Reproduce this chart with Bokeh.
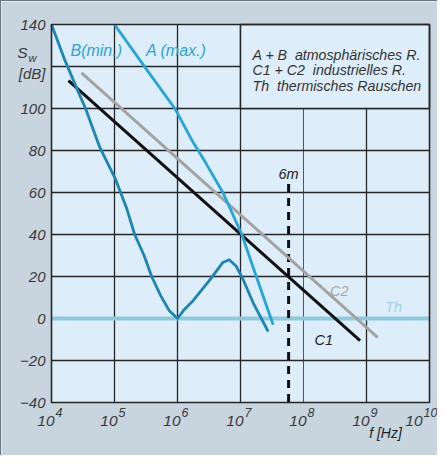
from bokeh.plotting import figure
from bokeh.models import Range1d
from bokeh.core.properties import value
from bokeh.embed import file_html
from bokeh.resources import INLINE
import math

# ---- axis ticks ----
freq_ticks = [1e4, 1e5, 1e6, 1e7, 1e8, 1e9, 1e10]
freq_exponents = ["4", "5", "6", "7", "8", "9", "10"]
db_ticks = [-40, -20, 0, 20, 40, 60, 80, 100, 120, 140]
db_tick_labels = ["−40", "−20", "0", "20", "40", "60", "80", "100", "", "140"]

# ---- series (frequency in Hz, level in dB) ----
a_f = [1.0e5, 3.16e5, 9.3e5, 1.76e6, 2.82e6, 5.25e6, 1.05e7, 1.78e7, 3.3e7]
a_db = [140, 119, 99.5, 84, 74, 60, 40, 20, -3]

b_f = [1.0e4, 1.58e4, 2.57e4, 3.47e4, 5.75e4, 1.05e5, 1.58e5, 2.09e5, 2.95e5,
       3.89e5, 5.43e5, 7.41e5, 1.0e6, 1.26e6, 1.78e6, 3.31e6, 5.25e6, 6.61e6,
       8.51e6, 1.1e7, 1.58e7, 2.75e7]
b_db = [140, 124, 109, 100, 82, 66, 52, 40, 30,
        20, 10.8, 3.7, 0, 4, 8.6, 18.6, 26.7, 28,
        25, 18.6, 7.6, -6.2]

c1_f = [1.86e4, 7.9e8]
c1_db = [113.3, -10.5]

c2_f = [3.0e4, 1.5e9]
c2_db = [117, -9]

th_f = [1e4, 1e10]
th_db = [0, 0]

band_6m_f = [5.8e7, 5.8e7]
band_6m_db = [64, -40]

legend_lines = ["A + B\u00a0\u00a0atmosphärisches R.",
                "C1 + C2\u00a0\u00a0industrielles R.",
                "Th\u00a0\u00a0thermisches Rauschen"]

PLOT_BG = "#ddeefa"
PANEL_BG = "#c8d5df"
GRID = "#262626"
FONT = "Liberation Sans"
TICK_COLOR = "#3a3a3a"

# ---- layout (window pixels) ----
W, H = 437, 455
FIG_X0, FIG_Y0 = 9, 9
FRAME_L, FRAME_R, FRAME_T, FRAME_B = 59, 437, 32, 410
n_dec = math.log10(freq_ticks[-1] / freq_ticks[0])
px_dec = (FRAME_R - FRAME_L) / n_dec
px_db = (FRAME_B - FRAME_T) / (db_ticks[-1] - db_ticks[0])
x_lo = freq_ticks[0] / 10 ** ((FRAME_L - FIG_X0) / px_dec)
x_hi = freq_ticks[-1] * 10 ** ((FIG_X0 + W - FRAME_R) / px_dec)
y_hi = db_ticks[-1] + (FRAME_T - FIG_Y0) / px_db
y_lo = db_ticks[0] - (FIG_Y0 + H - FRAME_B) / px_db

p = figure(width=W, height=H, x_axis_type="log",
           x_range=Range1d(x_lo, x_hi), y_range=Range1d(y_lo, y_hi),
           output_backend="svg", toolbar_location=None,
           x_axis_location=None, y_axis_location=None, min_border=0)
p.styles = {"border-top": "1px solid #6a7680", "border-left": "1px solid #6a7680"}
p.background_fill_color = PANEL_BG
p.border_fill_color = PANEL_BG
p.outline_line_color = None
p.grid.visible = False

f0, f1 = freq_ticks[0], freq_ticks[-1]
d0, d1 = db_ticks[0], db_ticks[-1]

# plot area
p.quad(left=[f0], right=[f1], bottom=[d0], top=[d1], fill_color=PLOT_BG, line_color=None)

# grid
vx = freq_ticks[1:-1]
vcol = [GRID, GRID, GRID, "#555555", GRID]
vw = [1.3, 1.3, 1.3, 1.0, 1.3]
p.segment(x0=vx, y0=[d0] * len(vx), x1=vx, y1=[d1] * len(vx), line_color=vcol, line_width=vw)
hy = db_ticks[1:-1]
p.segment(x0=[f0] * len(hy), y0=hy, x1=[f1] * len(hy), y1=hy, line_color=GRID, line_width=1.3)

# legend box (covers grid in upper right)
p.quad(left=[freq_ticks[3]], right=[f1], bottom=[db_ticks[7]], top=[d1],
       fill_color=PLOT_BG, line_color=GRID, line_width=1.5)

# curves
p.line(th_f, th_db, line_color="#8fc9de", line_width=4)
p.line(band_6m_f, band_6m_db, line_color="#111111", line_width=3, line_dash="8 6")
p.line(c2_f, c2_db, line_color="#a3a3a3", line_width=3)
p.line(c1_f, c1_db, line_color="#111111", line_width=3)
p.line(a_f, a_db, line_color="#22a5dc", line_width=2.8, line_join="round")
p.line(b_f, b_db, line_color="#1a86b3", line_width=2.8, line_join="round")

# frame outline
p.quad(left=[f0], right=[f1], bottom=[d0], top=[d1], fill_color=None,
       line_color=GRID, line_width=1.6)

def txt(x, y, s, color, size="14px", align="left", x_offset=0):
    p.text(x=x, y=y, text=s, text_color=color, text_font=value(FONT),
           text_font_style="italic", text_font_size=size, text_align=align,
           text_baseline="middle", x_offset=x_offset)

# y tick labels
txt([f0] * len(db_ticks), db_ticks, db_tick_labels, TICK_COLOR, size="15px",
    align="right", x_offset=-6)
# x tick labels: "10" + exponent
n = len(freq_ticks)
base_off = [3, 3, 3, 3, 3, 3, -7]
txt(freq_ticks, [d0 - 18 / px_db] * n, ["10"] * n, TICK_COLOR, size="15.5px",
    align="right", x_offset=base_off)
txt(freq_ticks, [d0 - 10 / px_db] * n, freq_exponents, TICK_COLOR, size="12.5px",
    align="left", x_offset=[o + 1 for o in base_off])
# axis titles
txt([f0], [d1 - 28 / px_db], ["S"], TICK_COLOR, size="15.5px", align="right", x_offset=-24)
txt([f0], [d1 - 33 / px_db], ["w"], TICK_COLOR, size="11px", align="left", x_offset=-23)
txt([f0], [d1 - 49 / px_db], ["[dB]"], TICK_COLOR, size="15px", align="right", x_offset=-6)
txt([freq_ticks[-2]], [d0 - 30 / px_db], ["f [Hz]"], "#222222", size="14px",
    align="center", x_offset=19)

# curve labels
txt([2.0e4], [127.6], ["B(min.)"], "#2aa3d6", size="16px")
txt([3.16e5], [127.6], ["A (max.)"], "#2aa3d6", size="16px")
txt(band_6m_f[:1], [68.6], ["6m"], "#222222", size="14.5px", align="center")
txt([3.7e8], [12.9], ["C2"], "#a8a8a8", size="14.5px", align="center")
txt([2.7e9], [5.7], ["Th"], "#a3d2e3", size="14.5px", align="center")
txt([2.1e8], [-10], ["C1"], "#222222", size="14.5px", align="center")
txt([freq_ticks[3]] * 3, [125.7, 118.1, 110.5], legend_lines, "#333333",
    size="14.2px", x_offset=12)

open("out.html", "w").write(file_html(p, INLINE))
